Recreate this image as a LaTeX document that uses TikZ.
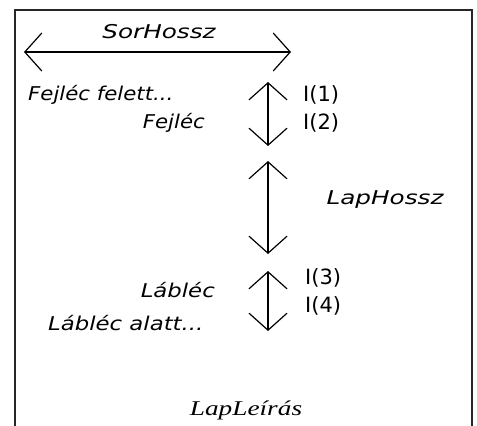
\documentclass[tikz,border=0pt]{standalone}
\usepackage{fontspec}
\setmainfont{DejaVu Sans}
\newfontfamily\handit[FakeStretch=1.3]{DejaVu Sans Oblique}
\newfontfamily\handmid[FakeStretch=1.2]{DejaVu Sans Oblique}
\newfontfamily\handnar[FakeStretch=1.12]{DejaVu Sans Oblique}
\newfontfamily\serifit[FakeStretch=1.3]{Liberation Serif Italic}
\usetikzlibrary{arrows.meta}
\tikzset{
  frameline/.style={line width=1.4pt, black!85},
  dimarrow/.style={line width=1.2pt, {Straight Barb[length=17pt,width=38pt,line width=1.2pt]}-{Straight Barb[length=17pt,width=38pt,line width=1.2pt]}},
  lbl/.style={font=\fontsize{19}{21}\handit, inner sep=0pt},
  lblmid/.style={font=\fontsize{19}{21}\handmid, inner sep=0pt},
  lblnar/.style={font=\fontsize{19}{21}\handnar, inner sep=0pt},
  idx/.style={font=\fontsize{21}{23}\selectfont, inner sep=0pt, anchor=west},
}
\begin{document}
\begin{tikzpicture}[x=1pt,y=-1pt]
\useasboundingbox (0,0) rectangle (477,426);
% frame
\draw[frameline] (15,426) -- (15,10) -- (472,10) -- (472,426);
% horizontal arrow
\coordinate (hL) at (24,52);
\coordinate (hR) at (291,52);
\draw[dimarrow] (hL) -- (hR);
\node[lbl] (sor) at (159,32) {SorHossz};
% arrow 1
\coordinate (a1t) at (268,82);
\coordinate (a1b) at (268,146);
\draw[dimarrow] (a1t) -- (a1b);
\node[lblnar, anchor=west] (ff) at (28,95) {Fejléc felett...};
\node[lblnar, anchor=east] (fej) at (205,123) {Fejléc};
\node[idx] (i1) at (303,95) {I(1)};
\node[idx] (i2) at (303,123) {I(2)};
% arrow 2
\coordinate (a2t) at (268,161);
\coordinate (a2b) at (268,254);
\draw[dimarrow] (a2t) -- (a2b);
\node[lbl] (lh) at (385,200) {LapHossz};
% arrow 3
\coordinate (a3t) at (268,271);
\coordinate (a3b) at (268,331);
\draw[dimarrow] (a3t) -- (a3b);
\node[lblmid, anchor=east] (lab) at (215,290) {Lábléc};
\node[lblmid, anchor=west] (laba) at (48,323) {Lábléc alatt...};
\node[idx] (i3) at (305,278) {I(3)};
\node[idx] (i4) at (305,306) {I(4)};
% bottom label
\node[font=\fontsize{21}{23}\serifit, inner sep=0pt] (ll) at (246,410) {LapLeírás};
\end{tikzpicture}
\end{document}
